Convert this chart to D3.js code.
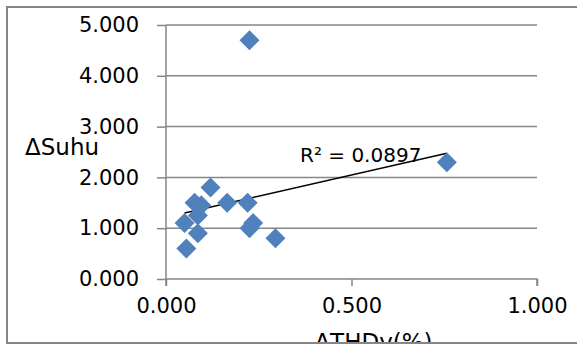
<!DOCTYPE html>
<html>
<head>
<meta charset="utf-8">
<script src="https://cdn.jsdelivr.net/npm/d3@7"></script>
<style>
    body { margin: 0; background: #fff; }
    svg { display: block; }
    text { font-family: "DejaVu Sans", sans-serif; fill: #000; }
</style>
</head>
<body>
<div id="chart"></div>
<script>
// Data
const thdValues = [0.120, 0.077, 0.095, 0.165, 0.220, 0.050, 0.086, 0.086, 0.055, 0.235, 0.225, 0.295, 0.225, 0.757];
const suhuValues = [1.80, 1.50, 1.45, 1.50, 1.50, 1.10, 1.25, 0.90, 0.60, 1.10, 1.00, 0.80, 4.70, 2.30];
const xTicks = [0, 0.5, 1];
const yTicks = [0, 1, 2, 3, 4, 5];
const r2Label = "R² = 0.0897";

const config = {
    width: 577,
    height: 354,
    plot: { left: 166, right: 537, top: 25, bottom: 279 },
    gridColor: "#868686",
    markerColor: "#4f81bd",
    tickFont: 21,
    labelFont: 20,
    titleFont: 23
};

const svg = d3.select("#chart")
    .append("svg")
    .attr("width", config.width)
    .attr("height", config.height);

svg.append("clipPath")
    .attr("id", "frame-clip")
    .append("rect")
    .attr("x", 7).attr("y", 7)
    .attr("width", 575).attr("height", 336);

const g = svg.append("g").attr("clip-path", "url(#frame-clip)");

const x = d3.scaleLinear().domain([0, 1]).range([config.plot.left, config.plot.right]);
const y = d3.scaleLinear().domain([0, 5]).range([config.plot.bottom, config.plot.top]);

// Horizontal gridlines
g.selectAll(".grid")
    .data(yTicks.filter(d => d > 0))
    .enter()
    .append("line")
    .attr("x1", x(0)).attr("x2", x(1))
    .attr("y1", d => y(d)).attr("y2", d => y(d))
    .style("stroke", config.gridColor)
    .style("stroke-width", 1.5);

// Y axis
const yAxis = g.append("g")
    .attr("transform", `translate(${x(0)},0)`)
    .call(d3.axisLeft(y).tickValues(yTicks).tickSize(9).tickPadding(18).tickFormat(d3.format(".3f")));

// X axis
const xAxis = g.append("g")
    .attr("transform", `translate(0,${y(0)})`)
    .call(d3.axisBottom(x).tickValues(xTicks).tickSize(7).tickPadding(12).tickFormat(d3.format(".3f")));

[yAxis, xAxis].forEach(axis => {
    axis.select(".domain").style("stroke", config.gridColor).style("stroke-width", 1.5);
    axis.selectAll(".tick line").style("stroke", config.gridColor).style("stroke-width", 1.5);
    axis.selectAll(".tick text")
        .style("font-family", "DejaVu Sans, sans-serif")
        .style("font-size", config.tickFont + "px")
        .style("fill", "#000");
});
xAxis.select(".domain").attr("d", `M${x(0)},7V0H${x(1)}V7`);
yAxis.select(".domain").attr("d", `M0,${y(5)}V${y(0)}`);

// Linear trendline (least squares over the points)
const meanX = d3.mean(thdValues);
const meanY = d3.mean(suhuValues);
const sxy = d3.sum(thdValues, (v, i) => (v - meanX) * (suhuValues[i] - meanY));
const sxx = d3.sum(thdValues, v => (v - meanX) * (v - meanX));
const slope = sxy / sxx;
const intercept = meanY - slope * meanX;
const xExtent = d3.extent(thdValues);

g.append("line")
    .attr("x1", x(xExtent[0])).attr("y1", y(intercept + slope * xExtent[0]))
    .attr("x2", x(xExtent[1])).attr("y2", y(intercept + slope * xExtent[1]))
    .style("stroke", "#000")
    .style("stroke-width", 1.5);

// Diamond markers
const diamond = d3.symbol().type(d3.symbolSquare).size(200);
g.selectAll(".point")
    .data(thdValues.map((v, i) => ({ x: v, y: suhuValues[i] })))
    .enter()
    .append("path")
    .attr("d", diamond)
    .attr("transform", d => `translate(${x(d.x)},${y(d.y)}) rotate(45)`)
    .style("fill", config.markerColor);

// Trendline label
g.append("text")
    .attr("x", 300)
    .attr("y", 162)
    .style("font-size", config.labelFont + "px")
    .text(r2Label);

// Axis titles
g.append("text")
    .attr("x", 25)
    .attr("y", 155)
    .style("font-size", config.titleFont + "px")
    .text("ΔSuhu");

g.append("text")
    .attr("x", x(0.5) + 22)
    .attr("y", 350)
    .attr("text-anchor", "middle")
    .style("font-size", config.titleFont + "px")
    .text("ΔTHDv(%)");

// Chart border
svg.append("rect")
    .attr("x", 7).attr("y", 7)
    .attr("width", 575).attr("height", 336)
    .style("fill", "none")
    .style("stroke", config.gridColor)
    .style("stroke-width", 2);
</script>
</body>
</html>
